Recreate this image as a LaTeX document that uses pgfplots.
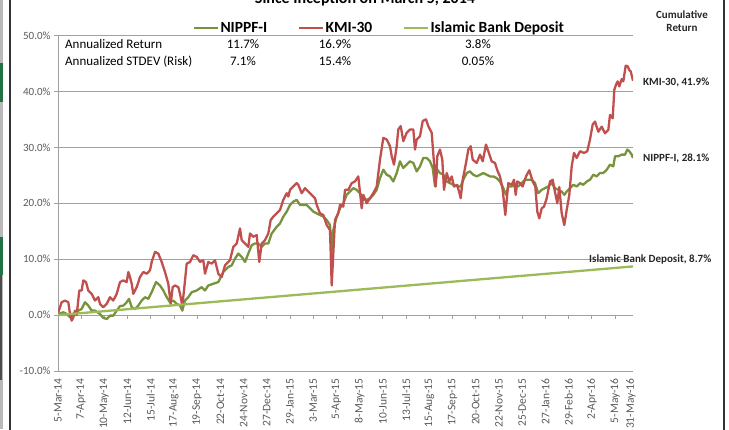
\documentclass[border=0pt]{standalone}
\usepackage{pgfplots}
\usepackage{pgfplotstable}
\pgfplotsset{compat=1.18}
\usepackage{fontspec}
\setmainfont{Carlito}
\definecolor{kmi}{HTML}{C0504D}
\definecolor{nip}{HTML}{77933C}
\definecolor{ibd}{HTML}{9BBB59}
\definecolor{gridc}{HTML}{A0A0A0}
\definecolor{tickc}{HTML}{595959}
\definecolor{xlgreen}{HTML}{217346}

% x = horizontal position along the time axis (5-Mar-14 ... 31-May-16), y = cumulative return in %
\pgfplotstableread{
x y
58.3 0.5
61.7 2.3
65 2.6
68.3 2.3
70 0.2
71.7 -1.0
73.3 -0.4
75 0.8
76.7 0
79.3 4.4
81.7 4.4
83.3 6.2
86 5.9
88.3 4.4
91.7 3.8
95 2.6
98.3 3.2
100 2.0
103.3 1.4
106.7 2.0
110 3.2
113.3 2.6
116.7 3.8
120 5.9
123.3 6.2
126.7 5.9
128.3 7.7
130 6.8
131.7 5.6
133.3 3.8
136.7 5.0
140 6.8
143.3 7.7
146.7 7.4
150 8.0
151.7 9.5
155 11.3
158.3 11.0
161.7 9.5
165 7.7
168.3 5.6
170.7 2.0
172.7 5.0
175 5.3
178.3 5.0
180 3.8
182.3 1.7
184 4.4
186.7 9.2
190 9.5
193.3 10.7
196.7 10.4
200 9.5
203.3 9.8
205 7.4
208.3 9.5
211.7 9.2
215 9.8
218.3 7.4
221.7 6.8
225 8.9
230 9.8
233.3 12.2
236.7 12.8
240 15.5
241.7 13.4
245 12.8
248.3 12.2
250 14.6
253.3 14.0
256.7 14.3
259.3 9.5
261.7 12.8
265 13.4
268.3 14.6
270.7 17.0
273.3 17.6
276.7 18.2
280 18.8
283.3 20.6
286.7 21.8
288.3 21.2
290 22.4
293.3 23.0
296.7 23.6
298.3 23.3
301.7 21.8
305 22.7
308.3 22.1
311.7 21.5
315 20.9
316.7 19.7
320 18.2
323.3 17.9
326.7 16.1
330 15.2
331.7 5.3
333.3 11.0
335 17.0
338.3 18.2
340 19.7
343.3 19.4
345 22.4
348.3 22.4
351.7 23.6
355 23.9
358.3 24.8
361.7 19.1
363.3 21.5
366.7 20.0
370 20.9
373.3 21.8
376.7 23.0
380 27.8
383.3 31.7
386.7 31.4
390 30.2
391.7 28.4
394 26.9
396.7 30.2
398.3 33.2
400.7 33.8
403.3 31.1
406.7 32.6
410 33.2
413.3 33.2
415 29.6
416.7 31.4
420 32.0
422.7 34.7
426 35.0
428.3 33.8
431.7 32.6
434 27.2
435.7 23.0
437.3 28.4
440 29.6
442.3 27.8
444 22.4
446.7 25.4
449.3 23.9
451.7 24.8
454 23.0
457.3 23.3
460.7 20.9
462.7 24.2
466 27.2
468.3 29.6
470.7 30.2
472.7 27.8
476.7 27.2
480 28.7
482.7 27.5
486 30.5
488.3 29.3
491.7 27.5
495 27.2
497.3 25.9
500 24.8
502.7 22.4
505.3 17.9
508.3 23.6
511.7 23.3
514 24.2
515.7 21.5
517.3 23.9
520 23.6
522.7 23.0
526 24.8
529.3 25.9
532.7 23.9
535.3 23.0
537.3 18.5
539.3 17.3
541.7 19.1
544 19.4
546.7 20.9
550 23.9
552.7 24.2
555 22.0
557.3 20.0
559.3 22.9
561.7 18.2
564.3 16.1
566.7 18.8
569.3 21.5
571.7 26.6
574 29.0
576.7 28.1
580 29.3
584 29.0
587.3 29.3
590 31.4
592.7 34.1
595 34.6
598.3 32.8
601.7 33.7
605 32.5
608.3 33.1
610 35.8
612.7 35.2
614.3 40.3
616 41.2
617.7 41.8
619.3 40.9
621.7 42.2
623.3 41.8
625.7 44.6
627.7 44.5
629.3 43.8
630.7 43.6
633 41.9
}\kmitable

\pgfplotstableread{
x y
58.3 0.2
63.3 0.5
66.7 0.2
70 -0.4
73.3 0.2
78.3 0.8
81.7 1.1
85 2.3
88.3 1.7
91.7 0.8
95 0.8
100 0.2
103.3 -0.5
106.7 -0.7
110 -0.1
113.3 -0.1
116.7 0.8
120 1.6
123.3 1.7
126.7 2.3
129 2.9
131.7 1.4
135 1.1
138.3 1.7
141.7 2.6
145 3.2
148.3 2.9
151.7 4.1
156 5.9
160 5.3
163.3 4.4
166.7 3.2
170 2.3
173.3 2.6
176.7 2.0
180 1.7
182.3 0.8
185 2.6
188.3 3.2
191.7 4.1
196.7 4.4
201.7 5.0
205 4.4
208.3 5.3
213.3 5.6
218.3 5.9
223.3 7.7
228.3 8.6
231.7 8.9
235 10.1
238.3 11.0
241.7 10.4
245 9.5
248.3 11.0
251.7 12.5
255 12.8
258.3 12.8
261.7 12.2
265 12.8
268.3 12.8
271.7 14.6
276.7 15.8
280 16.4
283.3 17.6
286.7 18.5
290 19.7
293.3 20.3
296.7 20.6
300 19.7
303.3 19.7
306.7 19.7
310 19.1
313.3 18.5
316.7 18.2
320 17.9
323.3 17.6
326.7 17.0
330 16.1
331.7 11.6
333.3 15.2
336.7 17.6
340 19.1
343.3 20.0
346.7 21.5
350 22.1
353.3 22.7
356.7 22.4
360 21.8
363.3 20.9
366.7 20.6
370 20.9
373.3 21.5
376.7 22.4
380 24.5
383.3 26.0
386.7 25.1
390 24.8
393.3 23.9
396.7 25.4
400 27.5
403.3 26.3
406.7 26.9
410 27.5
413.3 27.2
416.7 25.7
420 26.6
423.3 28.1
426.7 28.1
430 27.5
432.7 26.3
435 23.0
437.3 26.0
440 25.4
443.3 25.1
446.7 23.9
450 23.6
453.3 23.3
457.3 23.0
460.7 23.0
463.3 24.2
466.7 25.4
470 25.7
473.3 25.1
476.7 24.8
480 25.1
483.3 25.4
486.7 25.1
490 24.8
493.3 24.8
496.7 24.5
500 23.9
503.3 22.7
506 21.5
508.3 23.0
511.7 23.0
515 23.3
518.3 23.0
521.7 23.6
525 24.2
528.3 24.2
531.7 24.2
535 23.6
538.3 21.8
541.7 22.4
545 22.7
548.3 23.0
551.7 23.6
555 22.7
558.3 22.4
561.7 22.1
564.3 21.5
566.7 22.1
570 22.7
573.3 23.3
576.7 23.0
580 23.6
583.3 23.3
586.7 23.9
590 24.2
593.3 25.1
596.7 24.8
600 25.4
603.3 25.4
606.7 26.0
610 26.9
613.3 26.6
615 28.4
618.3 28.4
621.7 28.7
625 28.7
627.3 29.6
629.3 29.3
631.7 28.7
633 28.1
}\niptable

\pgfplotstableread{
x y
58 0
633 8.7
}\ibdtable

\begin{document}
\begin{tikzpicture}
% chart-area frame and window edge
\fill[gray!55] (0pt,0pt) rectangle (3pt,429pt);
\fill[xlgreen] (0pt,327pt) rectangle (3pt,366pt);
\fill[xlgreen] (0pt,154pt) rectangle (3pt,192pt);
\fill[black!70] (0pt,49pt) rectangle (2pt,154pt);
\draw[black!80, line width=1.4pt] (10pt,-5pt) -- (10pt,440pt);
\draw[black!80, line width=1.4pt] (724pt,-5pt) -- (724pt,440pt);

\begin{axis}[
  at={(58pt,58pt)}, anchor=south west,
  scale only axis, width=575pt, height=335.5pt,
  xmin=58, xmax=633, ymin=-10, ymax=50,
  axis x line*=bottom, axis y line*=left,
  axis line style={-, gridc, line width=0.8pt},
  ytick={-10,0,10,20,30,40,50},
  ymajorgrids, grid style={gridc, line width=0.8pt},
  ytick style={gridc, line width=0.8pt},
  xtick style={draw=none},
  major tick length=4pt, tick align=outside,
  /pgf/number format/assume math mode=true,
  yticklabel={\pgfmathprintnumber[fixed,fixed zerofill,precision=1]{\tick}\%},
  yticklabel style={font=\fontsize{11}{13}\selectfont, text=tickc},
  xtick={58,81.02,104.24,127.46,150.68,173.9,197.12,220.34,243.56,266.78,290,313.22,336.44,359.66,382.88,406.1,429.32,452.54,475.76,498.98,522.2,545.42,568.64,591.86,615.08,631},
  xticklabels={5-Mar-14,7-Apr-14,10-May-14,12-Jun-14,15-Jul-14,17-Aug-14,19-Sep-14,22-Oct-14,24-Nov-14,27-Dec-14,29-Jan-15,3-Mar-15,5-Apr-15,8-May-15,10-Jun-15,13-Jul-15,15-Aug-15,17-Sep-15,20-Oct-15,22-Nov-15,25-Dec-15,27-Jan-16,29-Feb-16,2-Apr-16,5-May-16,31-May-16},
  xticklabel style={rotate=90, anchor=east, font=\fontsize{11.5}{13}\selectfont, text=tickc},
  legend columns=3,
  legend style={at={(0.2348,1.0224)}, anchor=west, draw=none, fill=none, inner sep=0pt,
    font=\fontsize{15.5}{18}\selectfont\bfseries,
    /tikz/every even column/.append style={column sep=30pt},
    nodes={inner sep=1pt}},
  legend image code/.code={\draw[#1] (0pt,0pt) -- (24pt,0pt);},
]
\pgfplotsinvokeforeach{81.02,104.24,127.46,150.68,173.9,197.12,220.34,243.56,266.78,290,313.22,336.44,359.66,382.88,406.1,429.32,452.54,475.76,498.98,522.2,545.42,568.64,591.86,615.08}{
  \draw[gridc, line width=0.8pt] (axis cs:#1,0) -- ++(0pt,-4pt);
}
\addplot[nip, line width=2.3pt, line join=round] table[x=x,y=y] {\niptable};
\addlegendentry{NIPPF-I}
\addplot[kmi, line width=2.3pt, line join=round] table[x=x,y=y] {\kmitable};
\addlegendentry{KMI-30}
\addplot[ibd, line width=2.3pt] table[x=x,y=y] {\ibdtable};
\addlegendentry{Islamic Bank Deposit}
\end{axis}

% title (cut at top in the reference)
\node[anchor=base, font=\fontsize{16}{19}\selectfont\bfseries] at (365pt,425pt) {Since Inception on March 5, 2014};

% statistics table
\begin{scope}[every node/.style={font=\fontsize{13}{15}\selectfont, inner sep=0pt}]
\node[anchor=base west] at (65pt,380pt) {Annualized Return};
\node[anchor=base west] at (65pt,363pt) {Annualized STDEV (Risk)};
\node[anchor=base] at (243pt,380pt) {11.7\%};
\node[anchor=base] at (335pt,380pt) {16.9\%};
\node[anchor=base] at (478pt,380pt) {3.8\%};
\node[anchor=base] at (243pt,363pt) {7.1\%};
\node[anchor=base] at (335pt,363pt) {15.4\%};
\node[anchor=base] at (478pt,363pt) {0.05\%};
\end{scope}

% end labels
\begin{scope}[every node/.style={font=\fontsize{11}{13}\selectfont\bfseries, inner sep=0pt, text=black!85}]
\node[anchor=west] at (643pt,347pt) {KMI-30, 41.9\%};
\node[anchor=west] at (643pt,271pt) {NIPPF-I, 28.1\%};
\node[anchor=west] at (589pt,169pt) {Islamic Bank Deposit, 8.7\%};
\node[anchor=center] at (682pt,414pt) {Cumulative};
\node[anchor=center] at (682pt,401pt) {Return};
\end{scope}

\pgfresetboundingbox
\path (0pt,0pt) rectangle (729pt,429pt);
\end{tikzpicture}
\end{document}
